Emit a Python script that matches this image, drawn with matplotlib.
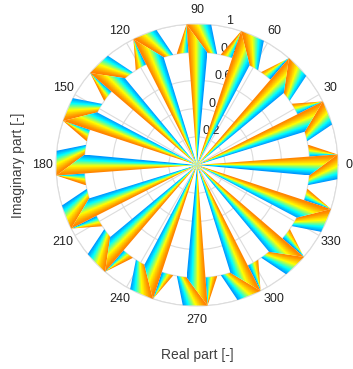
import numpy as np
import matplotlib
matplotlib.use("Agg")
import matplotlib.pyplot as plt
from matplotlib.colors import LinearSegmentedColormap
from matplotlib.patches import Polygon

plt.rcParams['font.family'] = ['Liberation Sans', 'DejaVu Sans']

# unit phasors, one every 22.5 degrees
angles_deg = [0, 22.5, 45, 67.5, 90, 112.5, 135, 157.5,
              180, 202.5, 225, 247.5, 270, 292.5, 315, 337.5]
magnitudes = [1, 1, 1, 1, 1, 1, 1, 1, 1, 1, 1, 1, 1, 1, 1, 1]
theta_ticks = list(range(0, 360, 30))
r_ticks = [0.2, 0.4, 0.6, 0.8, 1.0]
r_tick_labels = ['0.2', '0.4', '0.6', '0.8', '1']

# blue -> cyan -> green -> yellow -> orange
cmap = LinearSegmentedColormap.from_list('warm_jet', [
    (0.00, (0.00, 0.58, 1.00)),
    (0.13, (0.00, 0.78, 1.00)),
    (0.26, (0.00, 1.00, 1.00)),
    (0.42, (0.50, 1.00, 0.50)),
    (0.58, (1.00, 1.00, 0.00)),
    (0.76, (1.00, 0.74, 0.00)),
    (0.90, (1.00, 0.56, 0.00)),
    (1.00, (1.00, 0.50, 0.00)),
])

# arrow glyph geometry (angle offsets in degrees, radii relative to length)
TIP = 4.3
SHAFT_CW = -5.3
BARB = 10.4
OUTER_CW = -5.8
INNER_CW = -10.3
HEAD_R = 0.8

fig = plt.figure(figsize=(3.53, 3.69), dpi=100)
box = [56 / 353, 63 / 369, 282 / 353, 282 / 369]

ax = fig.add_axes(box, projection='polar')
ax.set_ylim(0, 1)
ax.set_thetagrids(theta_ticks, [''] * len(theta_ticks))
ax.set_rgrids(r_ticks, r_tick_labels, angle=78)
ax.grid(color='#dcdcdc', linewidth=0.8)
ax.spines['polar'].set_color('#dcdcdc')
ax.tick_params(axis='y', labelsize=9, colors='#222222')
for t in theta_ticks:
    r_lab = 1.075 if t == 0 else 1.097
    ax.text(np.deg2rad(t), r_lab, str(t), ha='center', va='center',
            fontsize=9, color='#222222', clip_on=False)

ov = fig.add_axes(box, zorder=2)
ov.patch.set_alpha(0)
ov.axis('off')

res = 500


def pt(phi, m, off, r):
    a = np.deg2rad(phi + off)
    return np.array([m * r * np.cos(a), m * r * np.sin(a)])


def line_dist(X, Y, p, q):
    d = q - p
    return np.abs(d[0] * (Y - p[1]) - d[1] * (X - p[0])) / np.hypot(*d)


def gradient_patch(verts, orange, blue, z):
    verts = np.asarray(verts)
    x0, y0 = verts.min(axis=0)
    x1, y1 = verts.max(axis=0)
    nx = max(int((x1 - x0) * res), 8)
    ny = max(int((y1 - y0) * res), 8)
    X, Y = np.meshgrid(np.linspace(x0, x1, nx), np.linspace(y0, y1, ny))
    do = line_dist(X, Y, *orange)
    db = line_dist(X, Y, *blue)
    val = db / (do + db + 1e-12)
    poly = Polygon(verts, closed=True, facecolor='none', edgecolor='none',
                   transform=ov.transData)
    ov.add_patch(poly)
    im = ov.imshow(val, cmap=cmap, vmin=0, vmax=1, origin='lower',
                   extent=(x0, x1, y0, y1), aspect='auto',
                   interpolation='nearest', zorder=z)
    im.set_clip_path(poly)


def arc(phi, m, a0, a1, r, n=8):
    return [pt(phi, m, a, r) for a in np.linspace(a0, a1, n)]


for k, (phi, m) in enumerate(zip(angles_deg, magnitudes)):
    O = np.zeros(2)
    T = pt(phi, m, TIP, 1)
    B = pt(phi, m, BARB, HEAD_R)
    S = pt(phi, m, SHAFT_CW, HEAD_R)
    C1 = pt(phi, m, OUTER_CW, 1)
    C2 = pt(phi, m, INNER_CW, HEAD_R)
    z = 3 + k * 3
    # outer block on the clockwise side of the head
    gradient_patch([T, C1] + arc(phi, m, INNER_CW, SHAFT_CW, HEAD_R),
                   (S, T), (C2, C1), z)
    # barb on the counter-clockwise side
    gradient_patch([B, T] + arc(phi, m, TIP, BARB, HEAD_R),
                   (B, T), (O, T), z + 1)
    # shaft wedge
    gradient_patch([O, T, S], (O, T), (O, S), z + 2)

ov.set_xlim(-1, 1)
ov.set_ylim(-1, 1)

fig.text(18 / 353, 1 - 165 / 369, 'Imaginary part [-]', rotation=90,
         ha='center', va='center', fontsize=10, color='#404040')
fig.text(197 / 353, 14 / 369, 'Real part [-]', ha='center', va='center',
         fontsize=10, color='#404040')

fig.savefig('out.png', dpi=100)
